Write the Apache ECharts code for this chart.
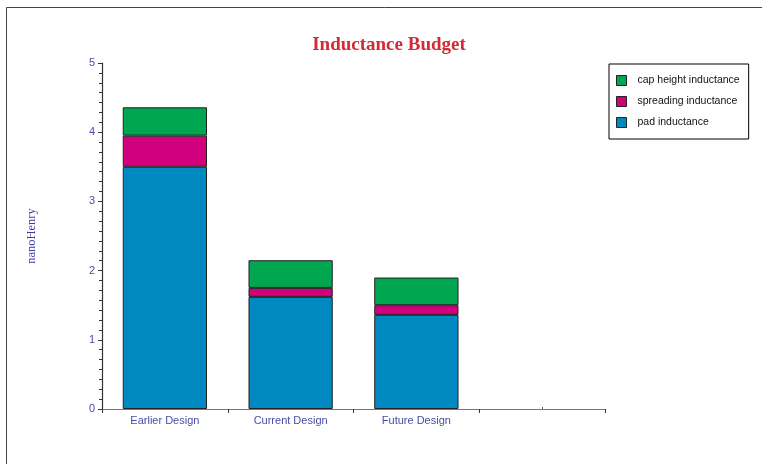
<!DOCTYPE html>
<html>
<head>
<meta charset="utf-8">
<script src="https://cdn.jsdelivr.net/npm/echarts@6/dist/echarts.min.js"></script>
<style>html,body{margin:0;padding:0;background:#fff;}#c{width:762px;height:464px;}</style>
</head>
<body>
<div id="c"></div>
<script>
var categories = ['Earlier Design', 'Current Design', 'Future Design', ''];
var padInductance = [3.50, 1.62, 1.36, null];
var spreadingInductance = [0.45, 0.13, 0.14, null];
var capHeightInductance = [0.41, 0.40, 0.40, null];
var yTicks = [0, 1, 2, 3, 4, 5];

var chart = echarts.init(document.getElementById('c'));
var labelColor = '#4a4aa6';
var barBorder = {borderColor: '#222', borderWidth: 1};
chart.setOption({
  animation: false,
  backgroundColor: '#fff',
  title: {
    text: 'Inductance Budget',
    left: 384, top: 31, textAlign: 'center',
    textStyle: {fontFamily: 'Liberation Serif', fontWeight: 'bold', fontSize: 19, color: '#d42a35'}
  },
  legend: {
    orient: 'vertical',
    left: 609, top: 64,
    padding: [11, 9, 11, 7],
    itemGap: 10,
    itemWidth: 10, itemHeight: 10,
    icon: 'rect',
    borderColor: '#000', borderWidth: 1,
    data: ['cap height inductance', 'spreading inductance', 'pad inductance'],
    textStyle: {fontFamily: 'Liberation Sans', fontSize: 10.5, color: '#111', padding: [0, 0, 0, 6]},
    itemStyle: {borderColor: '#222', borderWidth: 1}
  },
  graphic: [{
    type: 'rect', silent: true,
    shape: {x: 6.5, y: 7.5, width: 800, height: 500},
    style: {fill: 'none', stroke: '#444', lineWidth: 1}
  }],
  grid: {left: 102, right: 157, top: 63, bottom: 55, containLabel: false},
  xAxis: [{
    type: 'category',
    data: categories,
    axisLine: {lineStyle: {color: '#777', width: 1.2}},
    axisTick: {show: true, alignWithLabel: false, length: 4, lineStyle: {color: '#333'}},
    axisLabel: {color: labelColor, fontFamily: 'Liberation Sans', fontSize: 11, margin: 6}
  }, {
    type: 'category',
    data: categories,
    position: 'bottom',
    axisLine: {show: false},
    axisTick: {show: true, alignWithLabel: true, inside: true, length: 2, lineStyle: {color: '#555'}},
    axisLabel: {show: false}
  }],
  yAxis: {
    type: 'value',
    min: yTicks[0], max: yTicks[yTicks.length - 1], interval: 1,
    name: 'nanoHenry',
    nameLocation: 'middle',
    nameGap: 64,
    nameTextStyle: {fontFamily: 'Liberation Serif', fontSize: 12.5, color: '#3b3bab'},
    axisLine: {show: true, lineStyle: {color: '#333', width: 1.2}},
    axisTick: {show: true, length: 4, lineStyle: {color: '#333'}},
    minorTick: {show: true, splitNumber: 7, length: 3, lineStyle: {color: '#333'}},
    splitLine: {show: false},
    axisLabel: {color: labelColor, fontFamily: 'Liberation Sans', fontSize: 11, margin: 7}
  },
  series: [{
    name: 'pad inductance', type: 'bar', stack: 'total', barCategoryGap: '33%',
    data: padInductance,
    itemStyle: Object.assign({color: '#0089c0'}, barBorder)
  }, {
    name: 'spreading inductance', type: 'bar', stack: 'total',
    data: spreadingInductance,
    itemStyle: Object.assign({color: '#d2007c'}, barBorder)
  }, {
    name: 'cap height inductance', type: 'bar', stack: 'total',
    data: capHeightInductance,
    itemStyle: Object.assign({color: '#00a650'}, barBorder)
  }]
});
</script>
</body>
</html>
